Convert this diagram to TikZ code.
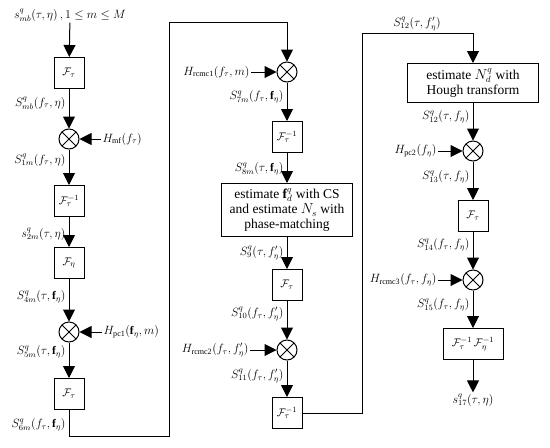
\documentclass[tikz,border=0pt]{standalone}
\usepackage{fontspec}
\setmainfont{Liberation Serif}
\usetikzlibrary{arrows.meta}
\tikzset{
  >={Triangle[length=12pt,width=12pt]},
  every path/.style={line width=1pt},
  box/.style={draw, minimum width=30pt, minimum height=31pt, inner sep=1pt, font=\fontsize{11}{13}\selectfont},
  bigbox/.style={draw, align=center, inner sep=2pt, font=\fontsize{13.5}{15}\selectfont},
  mixer/.style={draw, circle, minimum size=20pt, inner sep=0pt,
    path picture={\draw (path picture bounding box.north west) -- (path picture bounding box.south east)
      (path picture bounding box.north east) -- (path picture bounding box.south west);}},
  lbl/.style={inner sep=1pt, font=\fontsize{11.5}{13}\selectfont}
}
\begin{document}
\begin{tikzpicture}[x=1pt, y=-1pt]
  \useasboundingbox (0,0) rectangle (550,448);
  % Nodes
  \node[lbl] (in) at (70,15) {$s^q_{mb}(\tau,\eta)\,,1\le m\le M$};
  \node[box] (f1) at (69,73) {$\mathcal{F}_\tau$};
  \node[lbl, anchor=east] (s0) at (67,103) {$S^q_{mb}(f_\tau,\eta)$};
  \node[mixer] (m1) at (69,139) {};
  \node[lbl, anchor=west] (hmf) at (101,139) {$H_{\mathrm{mf}}(f_\tau)$};
  \node[lbl, anchor=east] (s1) at (67,160) {$S^q_{1m}(f_\tau,\eta)$};
  \node[box] (f2) at (69,201) {$\mathcal{F}_\tau^{-1}$};
  \node[lbl, anchor=east] (s2) at (67,234) {$s^q_{2m}(\tau,\eta)$};
  \node[box] (f3) at (69,263) {$\mathcal{F}_\eta$};
  \node[lbl, anchor=east] (s4) at (67,297) {$S^q_{4m}(\tau,\mathbf{f}_\eta)$};
  \node[mixer] (m2) at (69,332) {};
  \node[lbl, anchor=west] (hpc1) at (102,332) {$H_{\mathrm{pc1}}(\mathbf{f}_\eta,m)$};
  \node[lbl, anchor=east] (s5) at (67,352) {$S^q_{5m}(\tau,\mathbf{f}_\eta)$};
  \node[box] (f4) at (69,394) {$\mathcal{F}_\tau$};
  \node[lbl, anchor=east] (s6) at (67,425) {$S^q_{6m}(f_\tau,\mathbf{f}_\eta)$};
  \coordinate (c1) at (69,436);
  \coordinate (c2) at (169,436);
  \coordinate (c3) at (169,22);
  \coordinate (c4) at (287,22);

  \node[mixer] (m3) at (287,72) {};
  \node[lbl, anchor=east] (hr1) at (251,72) {$H_{\mathrm{rcmc1}}(f_\tau,m)$};
  \node[lbl, anchor=east] (s7) at (285,97) {$S^q_{7m}(f_\tau,\mathbf{f}_\eta)$};
  \node[box] (f5) at (287,137) {$\mathcal{F}_\tau^{-1}$};
  \node[lbl, anchor=east] (s8) at (285,169) {$S^q_{8m}(\tau,\mathbf{f}_\eta)$};
  \node[bigbox, minimum width=131pt, minimum height=53pt] (b1) at (287,210)
    {estimate $\mathbf{f}^q_d$ with CS\\ and estimate $N_s$ with\\ phase-matching};
  \node[lbl, anchor=east] (s9) at (285,253) {$S^q_{9}(\tau,f'_\eta)$};
  \node[box] (f6) at (287,285) {$\mathcal{F}_\tau$};
  \node[lbl, anchor=east] (s10) at (285,314) {$S^q_{10}(f_\tau,f'_\eta)$};
  \node[mixer] (m4) at (287,350) {};
  \node[lbl, anchor=east] (hr2) at (250,350) {$H_{\mathrm{rcmc2}}(f_\tau,f'_\eta)$};
  \node[lbl, anchor=east] (s11) at (285,376) {$S^q_{11}(f_\tau,f'_\eta)$};
  \node[box] (f7) at (287,413) {$\mathcal{F}_\tau^{-1}$};
  \coordinate (d1) at (362,413);
  \coordinate (d2) at (362,33);
  \coordinate (d3) at (473,33);
  \node[lbl] (s12a) at (417,24) {$S^q_{12}(\tau,f'_\eta)$};

  \node[bigbox, minimum width=131pt, minimum height=39pt] (b2) at (473,83)
    {estimate $N^q_d$ with\\ Hough transform};
  \node[lbl, anchor=east] (s12) at (471,117) {$S^q_{12}(\tau,f_\eta)$};
  \node[mixer] (m5) at (473,151) {};
  \node[lbl, anchor=east] (hpc2) at (438,151) {$H_{\mathrm{pc2}}(f_\eta)$};
  \node[lbl, anchor=east] (s13) at (471,177) {$S^q_{13}(\tau,f_\eta)$};
  \node[box] (f8) at (473,216) {$\mathcal{F}_\tau$};
  \node[lbl, anchor=east] (s14) at (471,245) {$S^q_{14}(f_\tau,f_\eta)$};
  \node[mixer] (m6) at (473,280) {};
  \node[lbl, anchor=east] (hr3) at (438,280) {$H_{\mathrm{rcmc3}}(f_\tau,f_\eta)$};
  \node[lbl, anchor=east] (s15) at (471,305) {$S^q_{15}(f_\tau,f_\eta)$};
  \node[box, minimum width=60pt] (f9) at (473,344) {$\mathcal{F}_\tau^{-1}\,\mathcal{F}_\eta^{-1}$};
  \node[lbl] (out) at (473,400) {$s^q_{17}(\tau,\eta)$};

  % Edges
  \draw[->] (in) -- (f1);
  \draw[->] (f1) -- (m1);
  \draw[->] (hmf) -- (m1);
  \draw[->] (m1) -- (f2);
  \draw[->] (f2) -- (f3);
  \draw[->] (f3) -- (m2);
  \draw[->] (hpc1) -- (m2);
  \draw[->] (m2) -- (f4);
  \draw[->] (f4) -- (c1) -- (c2) -- (c3) -- (c4) -- (m3);
  \draw[->] (hr1) -- (m3);
  \draw[->] (m3) -- (f5);
  \draw[->] (f5) -- (b1);
  \draw[->] (b1) -- (f6);
  \draw[->] (f6) -- (m4);
  \draw[->] (hr2) -- (m4);
  \draw[->] (m4) -- (f7);
  \draw[->] (f7) -- (d1) -- (d2) -- (d3) -- (b2);
  \draw[->] (b2) -- (m5);
  \draw[->] (hpc2) -- (m5);
  \draw[->] (m5) -- (f8);
  \draw[->] (f8) -- (m6);
  \draw[->] (hr3) -- (m6);
  \draw[->] (m6) -- (f9);
  \draw[->] (f9) -- (out);
\end{tikzpicture}
\end{document}
